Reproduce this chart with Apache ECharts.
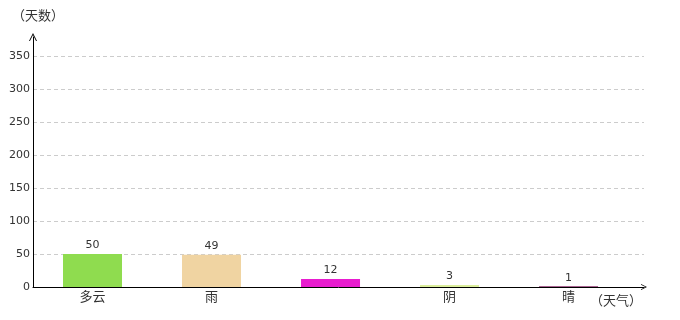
<!DOCTYPE html>
<html>
<head>
<meta charset="utf-8">
<script src="https://cdn.jsdelivr.net/npm/echarts@6/dist/echarts.min.js"></script>
<style>html,body{margin:0;padding:0;background:#fff}#c{width:680px;height:320px}</style>
</head>
<body>
<div id="c"></div>
<script>
var categories = ['多云', '雨', '', '阴', '晴'];
var values = [50, 49, 12, 3, 1];
var barColors = ['#8fdc4f', '#f0d4a2', '#e81ccf', '#dbee9c', '#8c2f6c'];
var yTicks = [0, 50, 100, 150, 200, 250, 300, 350];
var yName = '（天数）';
var xName = '（天气）';

var chevron = 'path://M0,10 L5,0 L10,10 L8.8,10 L5,2.6 L1.2,10 Z';
var nameStyle = {fontSize: 13, fontWeight: 'normal', color: '#333', fontFamily: 'Noto Sans CJK SC'};
var chart = echarts.init(document.getElementById('c'), null, {renderer: 'canvas'});
chart.setOption({
  animation: false,
  title: [
    {text: yName, left: 12, top: 9, padding: 0, textStyle: nameStyle},
    {text: xName, left: 590, top: 294, padding: 0, textStyle: nameStyle}
  ],
  grid: {left: 33, top: 37, width: 611, bottom: 33, containLabel: false},
  xAxis: {
    type: 'value',
    min: -0.5,
    max: 4.634,
    axisLine: {show: true, lineStyle: {color: '#000', width: 1}, symbol: ['none', chevron], symbolSize: [9, 6]},
    axisTick: {show: false},
    splitLine: {show: false},
    axisLabel: {
      customValues: categories.map(function (c, i) { return i; }),
      formatter: function (v) { return categories[Math.round(v)] || ''; },
      fontSize: 13, color: '#333', margin: 3, fontFamily: 'Noto Sans CJK SC'
    }
  },
  yAxis: {
    type: 'value',
    min: 0,
    max: 379,
    interval: 50,
    axisLine: {show: true, onZero: false, lineStyle: {color: '#000', width: 1}, symbol: ['none', chevron], symbolSize: [9, 8]},
    axisTick: {show: false},
    axisLabel: {
      customValues: yTicks,
      fontSize: 11, color: '#333', margin: 3, fontFamily: 'DejaVu Sans'
    },
    splitLine: {
      show: true,
      showMaxLine: false,
      lineStyle: {color: ['#ccc','#ccc','#ccc','#ccc','#ccc','#ccc','#ccc','#ccc','rgba(0,0,0,0)'], type: [4, 3], width: 1}
    }
  },
  series: [{
    type: 'bar',
    barWidth: 59,
    data: values.map(function (v, i) { return {value: [i, v], itemStyle: {color: barColors[i]}}; }),
    label: {
      show: true, position: 'top', distance: 3, fontSize: 11, color: '#333', fontFamily: 'DejaVu Sans',
      formatter: function (p) { return p.value[1]; }
    }
  }]
});
</script>
</body>
</html>
